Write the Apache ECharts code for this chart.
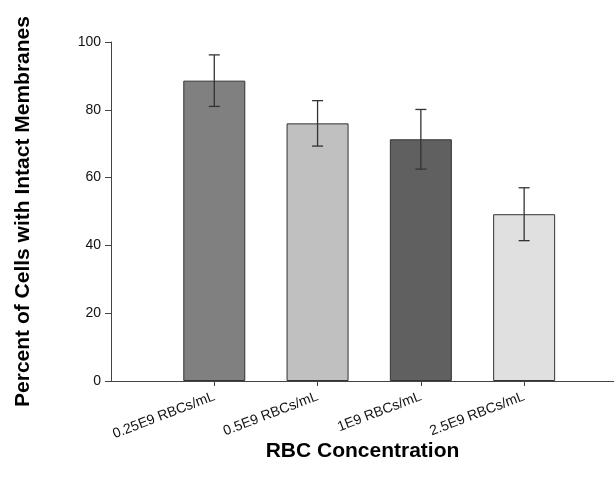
<!DOCTYPE html>
<html><head><meta charset="utf-8">
<script src="https://cdn.jsdelivr.net/npm/echarts@6/dist/echarts.min.js"></script>
<style>html,body{margin:0;padding:0;background:#fff}#c{width:614px;height:485px}</style>
</head><body><div id="c"></div>
<script>
const categories = ['0.25E9 RBCs/mL', '0.5E9 RBCs/mL', '1E9 RBCs/mL', '2.5E9 RBCs/mL'];
const means = [88.6, 76.0, 71.3, 49.2];
const errors = [7.6, 6.7, 8.8, 7.8];
const barColors = ['#808080', '#c0c0c0', '#606060', '#e0e0e0'];
const yTicks = [0, 20, 40, 60, 80, 100];

const chart = echarts.init(document.getElementById('c'));
const positions = categories.map((c, i) => i + 1);
const barData = means.map((v, i) => ({value: [positions[i], v], itemStyle: {color: barColors[i]}}));
const errData = means.map((v, i) => [positions[i], v - errors[i], v + errors[i]]);
chart.setOption({
  animation: false,
  grid: {left: 111, right: 0, top: 42, bottom: 104},
  xAxis: {
    type: 'value', min: 0, max: 4.87,
    name: 'RBC Concentration', nameLocation: 'middle', nameGap: 60, nameMoveOverlap: false,
    nameTextStyle: {fontFamily: 'Liberation Sans', fontWeight: 'bold', fontSize: 21, color: '#000'},
    axisLine: {lineStyle: {color: '#444', width: 1}},
    axisTick: {show: true, length: 5, lineStyle: {color: '#444'}, customValues: positions},
    splitLine: {show: false},
    axisLabel: {rotate: 21, fontFamily: 'Liberation Sans', fontSize: 14, color: '#111', margin: 15,
      customValues: positions,
      formatter: v => categories[Math.round(v) - 1] || ''}
  },
  yAxis: {
    type: 'value', min: 0, max: 100, interval: 20,
    name: 'Percent of Cells with Intact Membranes', nameLocation: 'middle', nameGap: 77, nameMoveOverlap: false,
    nameTextStyle: {fontFamily: 'Liberation Sans', fontWeight: 'bold', fontSize: 21, color: '#000'},
    axisLine: {show: true, lineStyle: {color: '#444', width: 1}},
    axisTick: {show: true, length: 6, lineStyle: {color: '#444'}},
    splitLine: {show: false},
    axisLabel: {fontFamily: 'Liberation Sans', fontSize: 14, color: '#111', margin: 10,
      formatter: v => yTicks.includes(v) ? String(v) : ''}
  },
  series: [
    {type: 'bar', data: barData, barWidth: 62,
     itemStyle: {borderColor: '#333', borderWidth: 1}},
    {type: 'custom', data: errData, z: 10,
     renderItem: (params, api) => {
       const x = api.value(0);
       const lo = api.coord([x, api.value(1)]);
       const hi = api.coord([x, api.value(2)]);
       const w = 5.5;
       const st = {stroke: '#333', lineWidth: 1.3};
       return {type: 'group', children: [
         {type: 'line', shape: {x1: lo[0], y1: lo[1], x2: hi[0], y2: hi[1]}, style: st},
         {type: 'line', shape: {x1: lo[0] - w, y1: lo[1], x2: lo[0] + w, y2: lo[1]}, style: st},
         {type: 'line', shape: {x1: hi[0] - w, y1: hi[1], x2: hi[0] + w, y2: hi[1]}, style: st}
       ]};
     }}
  ]
});
</script></body></html>
